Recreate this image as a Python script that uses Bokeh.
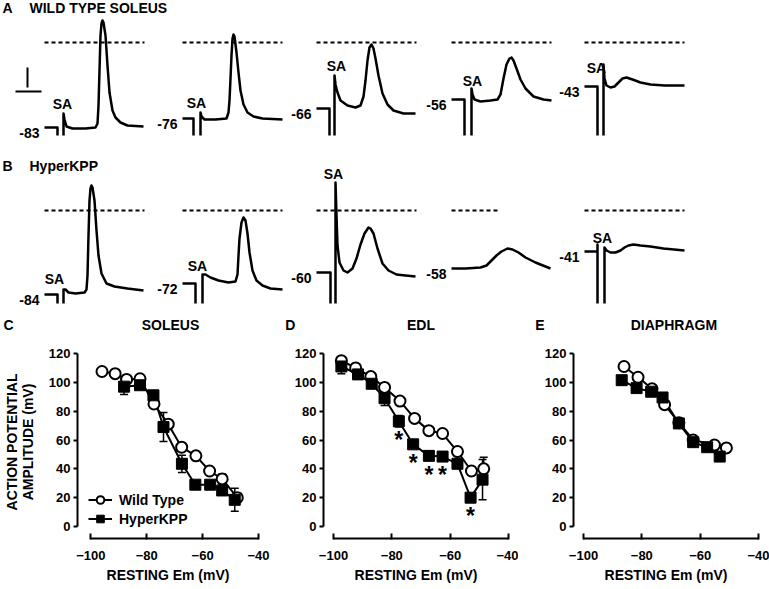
import math
from bokeh.plotting import figure
from bokeh.layouts import column, row
from bokeh.models import (Range1d, Legend, LegendItem, Whisker, TeeHead,
                          ColumnDataSource, FixedTicker)
from bokeh.core.properties import value
from bokeh.embed import file_html
from bokeh.resources import INLINE

nan = float("nan")
FONT = "Liberation Sans"

# ---------------- Panels A / B : membrane potential traces (t in ms, v in mV) -------------
A_REST = ["-83", "-76", "-66", "-56", "-43"]
B_REST = ["-84", "-72", "-60", "-58", "-41"]

A1_T = [0, 1.3, 1.3, nan, 1.9, 1.9, 2.0, 2.2, 2.8, 4.1, 5.1, 5.3, 5.4, 5.5, 5.6, 5.7, 5.8, 5.9, 6.1, 6.3, 6.5, 6.8, 7.1, 7.6, 8.3, 9.9]
A1_V = [-85, -85, -93, nan, -93, -71, -77, -84, -86, -86, -85, -81, -63, -28, 7, 19, 22, 20, 7, -23, -50, -68, -75, -80, -83, -84]
A2_T = [0, 1.1, 1.1, nan, 1.8, 1.8, 1.9, 2.2, 3.3, 4.4, 4.6, 4.7, 4.8, 4.9, 5.0, 5.1, 5.2, 5.4, 5.6, 5.8, 6.1, 6.5, 7.1, 8.0, 10.0]
A2_V = [-76, -76, -93, nan, -93, -70, -74, -77, -77, -76, -70, -58, -36, -13, 4, 8, 6, -10, -30, -48, -62, -70, -74, -76, -77]
A3_T = [0, 1.3, 1.3, nan, 1.8, 1.8, 1.9, 2.1, 2.4, 3.1, 3.9, 4.4, 4.7, 4.9, 5.1, 5.3, 5.5, 5.7, 5.9, 6.2, 6.6, 7.1, 7.7, 8.7, 9.9]
A3_V = [-66, -66, -93, nan, -93, -33, -42, -50, -58, -63, -65, -63, -54, -38, -18, -5, -2, -6, -16, -33, -51, -62, -68, -71, -71]
A4_T = [0, 1.3, 1.3, nan, 2.0, 2.0, 2.1, 2.3, 2.9, 3.9, 4.6, 4.9, 5.2, 5.5, 5.8, 6.0, 6.2, 6.5, 6.9, 7.4, 8.2, 9.2, 10.0]
A4_V = [-57, -57, -93, nan, -93, -46, -52, -57, -59, -58, -57, -52, -36, -22, -16, -15, -18, -26, -37, -46, -54, -57, -58]
A5_T = [0, 1.3, 1.3, nan, 1.9, 1.9, 2.0, 2.2, 2.6, 3.0, 3.4, 3.8, 4.2, 4.8, 5.6, 6.6, 8.0, 10.0]
A5_V = [-44, -44, -93, nan, -93, -22, -36, -43, -45, -44, -40, -36, -35, -37, -40, -42, -43, -43]

B1_T = [0, 1.3, 1.3, nan, 1.9, 1.9, 2.1, 2.4, 3.1, 4.0, 4.2, 4.3, 4.4, 4.5, 4.6, 4.7, 4.8, 5.0, 5.2, 5.4, 5.7, 6.2, 7.0, 8.3, 9.9]
B1_V = [-84, -84, -93, nan, -93, -79, -79, -82, -83, -82, -79, -65, -25, 10, 22, 25, 23, 10, -20, -45, -63, -73, -76, -78, -80]
B2_T = [0, 1.3, 1.3, nan, 2.0, 2.0, 2.3, 2.8, 3.6, 4.6, 5.3, 5.5, 5.6, 5.7, 5.9, 6.1, 6.3, 6.5, 6.7, 7.0, 7.4, 8.0, 8.8, 10.0]
B2_V = [-73, -73, -93, nan, -93, -64, -64, -67, -70, -72, -71, -64, -45, -28, -12, -7, -10, -23, -42, -60, -70, -75, -78, -79]
B3_T = [0, 1.4, 1.4, nan, 1.9, 1.9, 2.0, 2.1, 2.3, 2.7, 3.1, 3.6, 4.0, 4.4, 4.8, 5.2, 5.4, 5.7, 6.1, 6.6, 7.2, 8.0, 8.9, 9.9]
B3_V = [-62, -62, -93, nan, -93, 28, -5, -35, -52, -60, -62, -58, -48, -34, -23, -17, -18, -23, -38, -53, -60, -64, -65, -66]
B4_T = [0, 1.4, 2.9, 3.5, 4.0, 4.5, 5.0, 5.6, 6.1, 6.7, 7.4, 8.4, 9.9]
B4_V = [-58, -58, -57, -55, -50, -45, -41, -38, -39, -42, -47, -52, -58]
B5_T = [0, 1.3, 1.3, 1.3, nan, 2.0, 2.0, 2.2, 2.6, 3.1, 3.6, 4.0, 4.4, 4.9, 5.6, 6.6, 7.9, 10.0]
B5_V = [-41, -41, -34, -93, nan, -93, -37, -40, -42, -42, -40, -37, -35, -34, -35, -36, -38, -40]

A_TRACES = [(A1_T, A1_V), (A2_T, A2_V), (A3_T, A3_V), (A4_T, A4_V), (A5_T, A5_V)]
B_TRACES = [(B1_T, B1_V), (B2_T, B2_V), (B3_T, B3_V), (B4_T, B4_V), (B5_T, B5_V)]

SCALE_MV = 20     # vertical calibration bar
SCALE_MS = 2.6    # horizontal calibration bar

# ---------------- Panels C / D / E : AP amplitude vs resting Em ----------------
SOL_WT_X = [-96, -91.3, -87.2, -82.4, -77.4, -72.3, -67.5, -62.4, -57.5, -53, -47.6]
SOL_WT_Y = [107.5, 106, 102, 102.5, 85, 71, 55, 49, 38.5, 33, 20]
SOL_WT_E = [2, 2, 2, 2, 3, 2, 2, 2, 2, 3.5, 3]
SOL_HK_X = [-88.1, -82.4, -77.6, -74, -67.4, -62.6, -57.3, -53, -48.5]
SOL_HK_Y = [97, 98, 91, 69, 43.5, 29, 29, 25, 18.5]
SOL_HK_E = [5.5, 2, 2, 10, 6, 2, 2, 2, 8]

EDL_WT_X = [-97.3, -92.4, -87.2, -82.5, -77.2, -72.2, -67.3, -62.6, -57.5, -52.7, -48.5]
EDL_WT_Y = [115, 110, 104, 96.5, 87, 75, 66.5, 64.5, 52, 38.5, 40]
EDL_WT_E = [2, 2, 2, 2, 2, 2, 2, 2, 3, 3, 8]
EDL_HK_X = [-97.3, -91.6, -86.9, -82.5, -77.6, -72.7, -67.3, -62.6, -57.5, -53, -48.9]
EDL_HK_Y = [111, 105.5, 99, 89, 73, 57, 49, 48.5, 43.5, 20, 32.5]
EDL_HK_E = [5, 2, 2, 5, 4, 2, 2, 2, 2, 3, 14]
EDL_SIG = [False, False, False, False, True, True, True, True, False, True, False]

DIA_WT_X = [-86.1, -81.3, -76.5, -72.2, -67.3, -62.4, -55.1, -51]
DIA_WT_Y = [111, 103.5, 95.5, 84.5, 72, 60, 56.5, 54.5]
DIA_WT_E = [2, 2, 2, 2, 2, 2, 2, 2]
DIA_HK_X = [-86.9, -81.8, -76.8, -72.9, -67.3, -62.4, -57.6, -53.3]
DIA_HK_Y = [101.5, 96, 93.5, 89.5, 71.5, 58.5, 55, 48.5]
DIA_HK_E = [2, 2, 2, 2, 2, 2, 2, 2]

X_TICKS = [-100, -80, -60, -40]
Y_TICKS = [0, 20, 40, 60, 80, 100, 120]

# ---------------- layout constants ----------------
TOTAL_W = 769
TOP_H = 306
STRIP_H = 32
BOT_H = 251
TRACE_T0 = [4.4, 18.2, 31.6, 45.1, 58.4]   # ms position of each trace in its row
ROW_OFFSET = [0, -168]                     # display offset (mV) of rows A and B
ROW_TITLE_Y = [35, -123]
DASH_LEN_A = [10, 10, 10, 10, 10]
DASH_LEN_B = [10, 10, 10, 4.9, 10]
SA_A = [(1.8, -61), (1.4, -60), (2.0, -23), (2.1, -38), (1.2, -25)]
SA_B = [(1.0, -68), (1.5, -55), (1.7, 37), None, (1.8, -27)]

# ================= top figure (traces) =================
top = figure(width=TOTAL_W, height=TOP_H, x_range=Range1d(0, 76.9), y_range=Range1d(42 - TOP_H, 42),
             x_axis_type=None, y_axis_type=None, output_backend="svg", toolbar_location=None,
             min_border=0)
top.grid.visible = False
top.outline_line_color = None

txt = dict(text_font=value(FONT), text_font_style="bold", text_font_size="14px", text_color="black")

for r, (traces, rests, dashes, sas, letter, name) in enumerate([
        (A_TRACES, A_REST, DASH_LEN_A, SA_A, "A", "WILD TYPE SOLEUS"),
        (B_TRACES, B_REST, DASH_LEN_B, SA_B, "B", "HyperKPP")]):
    off = ROW_OFFSET[r]
    top.text(x=[0.2], y=[ROW_TITLE_Y[r]], text=[letter], text_align="left", text_baseline="middle", **txt)
    top.text(x=[2.9], y=[ROW_TITLE_Y[r]], text=[name], text_align="left", text_baseline="middle", **txt)
    for i, (t, v) in enumerate(traces):
        x0 = TRACE_T0[i]
        top.line([x0 + ti for ti in t], [vi + off for vi in v], line_width=2.5, color="black",
                 line_join="round")
        top.line([x0, x0 + dashes[i]], [off, off], line_width=2, color="black", line_dash="4 3")
        top.text(x=[x0 - 0.5], y=[v[0] + off - 5], text=[rests[i]], text_align="right",
                 text_baseline="middle", **txt)
        if sas[i] is not None:
            top.text(x=[x0 + sas[i][0]], y=[sas[i][1] + off], text=["SA"], text_align="center",
                     text_baseline="middle", **txt)

# calibration bars
top.line([2.7, 2.7], [-25, -25 - SCALE_MV], line_width=2, color="black")
top.line([1.5, 1.5 + SCALE_MS], [-49, -49], line_width=2, color="black")

# ================= bottom panels =================
Y_LO, Y_HI = -8.32, 125.55


def strip(width, x_lo, x_hi, letter, letter_x, title, title_x):
    s = figure(width=width, height=STRIP_H, x_range=Range1d(x_lo, x_hi), y_range=Range1d(0, 1),
               x_axis_type=None, y_axis_type=None, output_backend="svg", toolbar_location=None,
               min_border=0)
    s.grid.visible = False
    s.outline_line_color = None
    s.text(x=[letter_x], y=[0.43], text=[letter], text_align="left", text_baseline="middle", **txt)
    s.text(x=[title_x], y=[0.43], text=[title], text_align="center", text_baseline="middle", **txt)
    return s


def panel(width, bl, br, x_lo, wx, wy, we, hx, hy, he, ylabel=False, legend=False, sig=None):
    p = figure(width=width, height=BOT_H, x_range=Range1d(x_lo, -40), y_range=Range1d(Y_LO, Y_HI),
               output_backend="svg", toolbar_location=None,
               min_border_left=bl, min_border_right=br, min_border_top=7, min_border_bottom=51)
    p.grid.visible = False
    p.outline_line_color = None
    p.xaxis.bounds = (-100, -40)
    p.yaxis.bounds = (0, 120)
    p.xaxis.ticker = FixedTicker(ticks=X_TICKS)
    p.yaxis.ticker = FixedTicker(ticks=Y_TICKS)
    for ax in (p.xaxis, p.yaxis):
        ax.axis_line_width = 2
        ax.major_tick_line_width = 2
        ax.minor_tick_line_color = None
        ax.major_label_text_font = FONT
        ax.major_label_text_font_style = "bold"
        ax.major_label_text_font_size = "13px"
        ax.major_label_text_color = "black"
        ax.axis_label_text_font = FONT
        ax.axis_label_text_font_style = "bold"
        ax.axis_label_text_font_size = "14px"
        ax.axis_label_text_color = "black"
    p.xaxis.major_tick_in = 5
    p.xaxis.major_tick_out = 1
    p.xaxis.major_label_standoff = 11
    p.yaxis.major_tick_in = 0
    p.yaxis.major_tick_out = 4
    p.yaxis.major_label_standoff = 3
    p.xaxis.axis_label = "RESTING Em (mV)"
    p.xaxis.axis_label_standoff = 4
    if ylabel:
        p.yaxis.axis_label = "ACTION POTENTIAL\nAMPLITUDE (mV)"
        p.yaxis.axis_label_standoff = 10
        p.yaxis.axis_label_text_line_height = 1.0

    ws = ColumnDataSource(dict(x=wx, y=wy, lo=[a - b for a, b in zip(wy, we)], hi=[a + b for a, b in zip(wy, we)]))
    hs = ColumnDataSource(dict(x=hx, y=hy, lo=[a - b for a, b in zip(hy, he)], hi=[a + b for a, b in zip(hy, he)]))
    for s in (ws, hs):
        p.add_layout(Whisker(base="x", lower="lo", upper="hi", source=s, line_width=1.5,
                             upper_head=TeeHead(size=8, line_width=1.5),
                             lower_head=TeeHead(size=8, line_width=1.5)))
    wl = p.line("x", "y", source=ws, line_width=2, color="black")
    hl = p.line("x", "y", source=hs, line_width=2, color="black")
    wm = p.scatter("x", "y", source=ws, marker="circle", size=11, fill_color="white",
                   line_color="black", line_width=2)
    hm = p.scatter("x", "y", source=hs, marker="square", size=11, fill_color="black",
                   line_color="black", line_width=1)

    if legend:
        leg = Legend(items=[LegendItem(label="Wild Type", renderers=[wl, wm]),
                            LegendItem(label="HyperKPP", renderers=[hl, hm])],
                     location=(11, 10), border_line_color=None, background_fill_alpha=0,
                     padding=0, margin=0, spacing=0, glyph_width=24, glyph_height=19,
                     label_height=19, label_standoff=7, label_text_font=FONT,
                     label_text_color="black",
                     label_text_font_style="bold", label_text_font_size="14px")
        p.add_layout(leg)
    if sig is not None:
        sx = [x for x, s in zip(hx, sig) if s]
        sy = [y - 13 for y, s in zip(hy, sig) if s]
        p.text(x=sx, y=sy, text=["*"] * len(sx), text_align="center", text_baseline="middle",
               text_font=value(FONT), text_font_style="bold", text_font_size="23px")
    return p


# panel geometry: (width, left border, right border, frame x start, px per mV of frame)
C_W, C_BL, C_BR, C_XLO, C_SC = 270, 68, 12, -104.77, 2.933
D_W, D_BL, D_BR, D_XLO, D_SC = 248, 53, 10, -103.43, 2.917
E_W, E_BL, E_BR, E_XLO, E_SC = 251, 55, 11, -103.43, 2.917

sC = strip(C_W, C_XLO - C_BL / C_SC, -40 + C_BR / C_SC, "C", -126.9, "SOLEUS", -70)
sD = strip(D_W, D_XLO - D_BL / D_SC, -40 + D_BR / D_SC, "D", -116.5, "EDL", -70)
sE = strip(E_W, E_XLO - E_BL / E_SC, -40 + E_BR / E_SC, "E", -116.5, "DIAPHRAGM", -69)

pC = panel(C_W, C_BL, C_BR, C_XLO, SOL_WT_X, SOL_WT_Y, SOL_WT_E,
           SOL_HK_X, SOL_HK_Y, SOL_HK_E, ylabel=True, legend=True)
pD = panel(D_W, D_BL, D_BR, D_XLO, EDL_WT_X, EDL_WT_Y, EDL_WT_E,
           EDL_HK_X, EDL_HK_Y, EDL_HK_E, sig=EDL_SIG)
pE = panel(E_W, E_BL, E_BR, E_XLO, DIA_WT_X, DIA_WT_Y, DIA_WT_E,
           DIA_HK_X, DIA_HK_Y, DIA_HK_E)

layout = column(top, row(sC, sD, sE, spacing=0), row(pC, pD, pE, spacing=0), spacing=0)
open("out.html", "w").write(file_html(layout, INLINE))
